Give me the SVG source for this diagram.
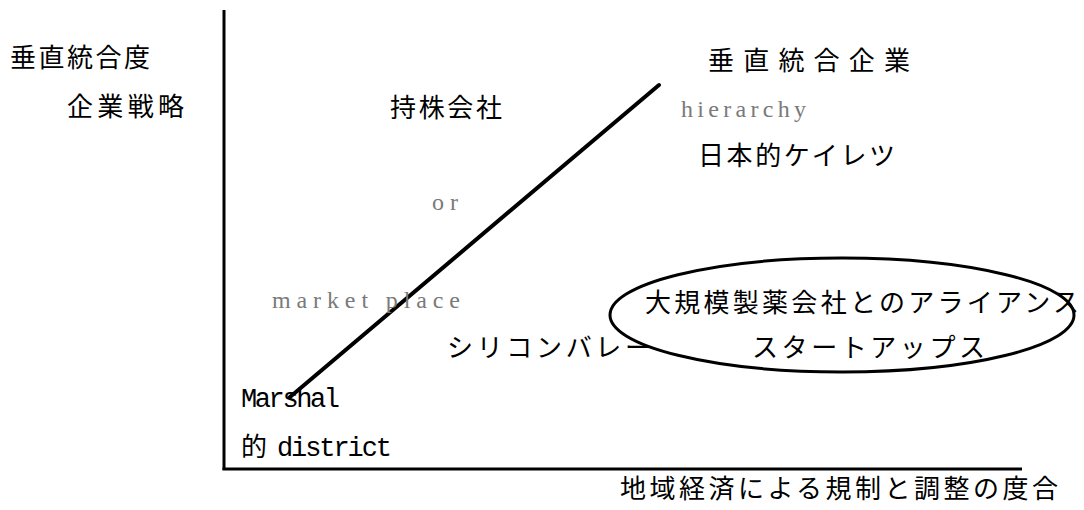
<svg xmlns="http://www.w3.org/2000/svg" width="1084" height="510" viewBox="0 0 1084 510">
<style>
.jp{font-family:"Noto Sans CJK JP","Noto Sans CJK SC",sans-serif;font-size:26px;fill:#000}
.mono{font-family:"Liberation Mono",monospace;font-size:27px;fill:#000}
.grey{font-family:"Liberation Serif",serif;font-size:24px;fill:#7a7a7a}
.ax{stroke:#000;stroke-width:3;fill:none}
</style>
<rect width="1084" height="510" fill="#fff"/>
<g id="axes">
<line class="ax" x1="224" y1="10" x2="224" y2="470"/>
<line class="ax" x1="222.5" y1="469" x2="1022" y2="469"/>
</g>
<g id="connectors">
<line x1="659" y1="85" x2="290" y2="397" stroke="#000" stroke-width="4" stroke-linecap="round"/>
</g>
<g id="y-label">
<text class="jp" x="10" y="67" textLength="140">垂直統合度</text>
<text class="jp" x="67" y="116" textLength="117">企業戦略</text>
</g>
<g id="holding">
<text class="jp" x="390" y="117" textLength="112">持株会社</text>
</g>
<g id="vertical-firm">
<text class="jp" x="708" y="70" textLength="202">垂直統合企業</text>
<text class="grey" x="681" y="117" textLength="125">hierarchy</text>
<text class="jp" x="698" y="165" textLength="197">日本的ケイレツ</text>
</g>
<g id="or">
<text class="grey" x="432" y="210" textLength="26">or</text>
</g>
<g id="market">
<text class="grey" x="272" y="308" textLength="188">market place</text>
</g>
<g id="alliance">
<ellipse cx="842" cy="315" rx="232" ry="57" fill="none" stroke="#000" stroke-width="3"/>
<text class="jp" x="645" y="312" textLength="434">大規模製薬会社とのアライアンス</text>
<text class="jp" x="752" y="357" textLength="233">スタートアップス</text>
</g>
<g id="silicon">
<text class="jp" x="447" y="357" textLength="204">シリコンバレー</text>
</g>
<g id="marshal">
<text class="mono" x="241" y="407" textLength="99">Marshal</text>
<text class="jp" x="241" y="456">的</text>
<text class="mono" x="277" y="456" textLength="115">district</text>
</g>
<g id="x-label">
<text class="jp" x="620" y="498" textLength="438">地域経済による規制と調整の度合</text>
</g>
</svg>
